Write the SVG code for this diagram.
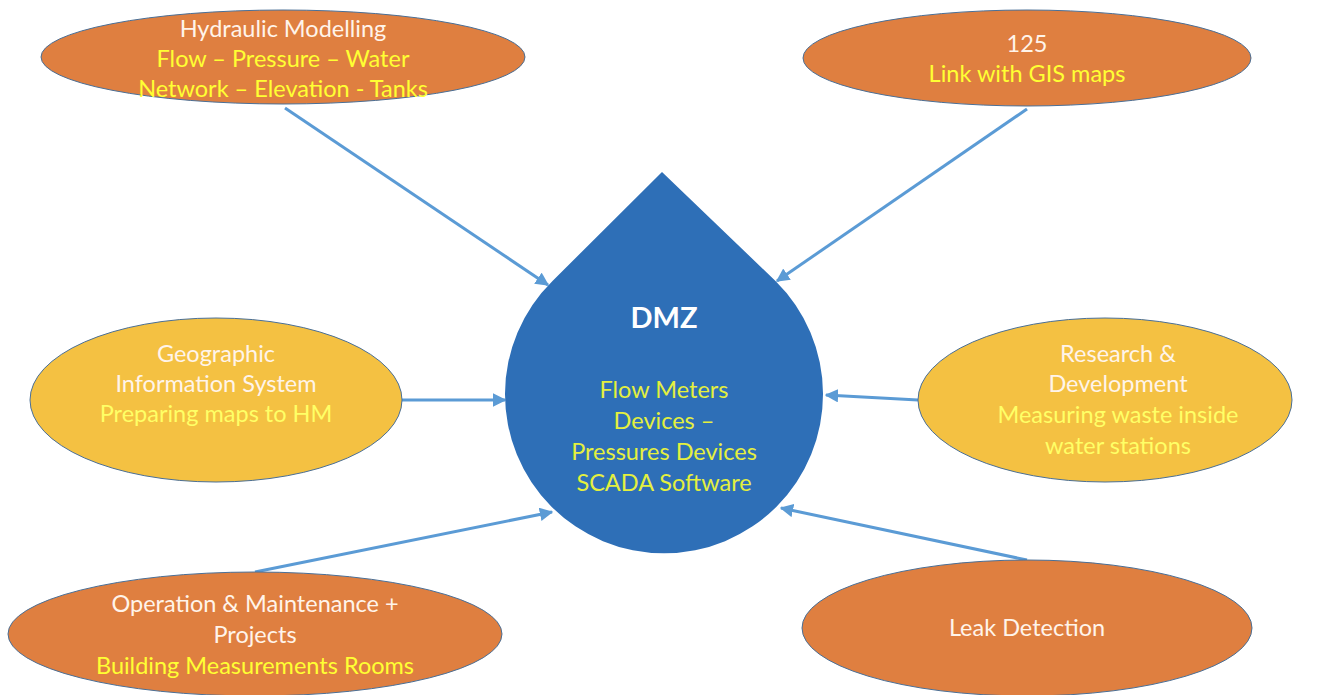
<svg xmlns="http://www.w3.org/2000/svg" width="1322" height="695" viewBox="0 0 1322 695">
<style>
.orange{fill:#DF7F40;stroke:#4A6F96;stroke-width:1}
.yellow{fill:#F4C142;stroke:#4A6F96;stroke-width:1}
text{font-family:Lato,"Open Sans","Liberation Sans",sans-serif;font-size:23.5px;text-anchor:middle}
.w{fill:#FFF4EA}
.y{fill:#FFFF33}
.ly{fill:#FFFF66}
.dy{fill:#E4F03E}
.conn{stroke:#5B9BD5;stroke-width:3;fill:none;marker-end:url(#ah)}
</style>
<defs>
<marker id="ah" viewBox="0 0 10 10" refX="9" refY="5" markerWidth="4.5" markerHeight="4.5" orient="auto" markerUnits="strokeWidth">
<path d="M0,0 L10,5 L0,10 z" fill="#5B9BD5"/>
</marker>
</defs>
<rect width="1322" height="695" fill="#FFFFFF"/>
<g id="connectors">
<line class="conn" x1="285" y1="108" x2="548" y2="285"/>
<line class="conn" x1="1027" y1="109" x2="777" y2="281"/>
<line class="conn" x1="402" y1="400" x2="505" y2="400"/>
<line class="conn" x1="918" y1="400" x2="826" y2="395"/>
<line class="conn" x1="255" y1="572" x2="552" y2="512"/>
<line class="conn" x1="1027" y1="560" x2="781" y2="508"/>
</g>
<g id="dmz">
<path d="M662,172 L552.5,281 A159,159 0 1,0 775.5,281 Z" fill="#2E6FB7"/>
<text x="664" y="328" style="font-weight:bold;font-size:29px" fill="#FFFFFF">DMZ</text>
<text class="dy" x="664" y="398">Flow Meters</text>
<text class="dy" x="664" y="429">Devices –</text>
<text class="dy" x="664" y="460">Pressures Devices</text>
<text class="dy" x="664" y="491">SCADA Software</text>
</g>
<g id="hydraulic">
<ellipse class="orange" cx="283" cy="57" rx="242" ry="47"/>
<text class="w" x="283" y="37">Hydraulic Modelling</text>
<text class="y" x="283" y="67">Flow – Pressure – Water</text>
<text class="y" x="283" y="97">Network – Elevation - Tanks</text>
</g>
<g id="gis125">
<ellipse class="orange" cx="1027" cy="58" rx="224" ry="48"/>
<text class="w" x="1027" y="52">125</text>
<text class="y" x="1027" y="82">Link with GIS maps</text>
</g>
<g id="geographic">
<ellipse class="yellow" cx="216" cy="400" rx="186" ry="82"/>
<text class="w" x="216" y="362">Geographic</text>
<text class="w" x="216" y="392">Information System</text>
<text class="ly" x="216" y="422">Preparing maps to HM</text>
</g>
<g id="research">
<ellipse class="yellow" cx="1105" cy="400" rx="187" ry="82"/>
<text class="w" x="1118" y="362">Research &amp;</text>
<text class="w" x="1118" y="392">Development</text>
<text class="ly" x="1118" y="423">Measuring waste inside</text>
<text class="ly" x="1118" y="454">water stations</text>
</g>
<g id="operation">
<ellipse class="orange" cx="255" cy="634" rx="247" ry="62"/>
<text class="w" x="255" y="612">Operation &amp; Maintenance +</text>
<text class="w" x="255" y="643">Projects</text>
<text class="y" x="255" y="674">Building Measurements Rooms</text>
</g>
<g id="leak">
<ellipse class="orange" cx="1027" cy="628" rx="225" ry="68"/>
<text class="w" x="1027" y="636">Leak Detection</text>
</g>
</svg>
